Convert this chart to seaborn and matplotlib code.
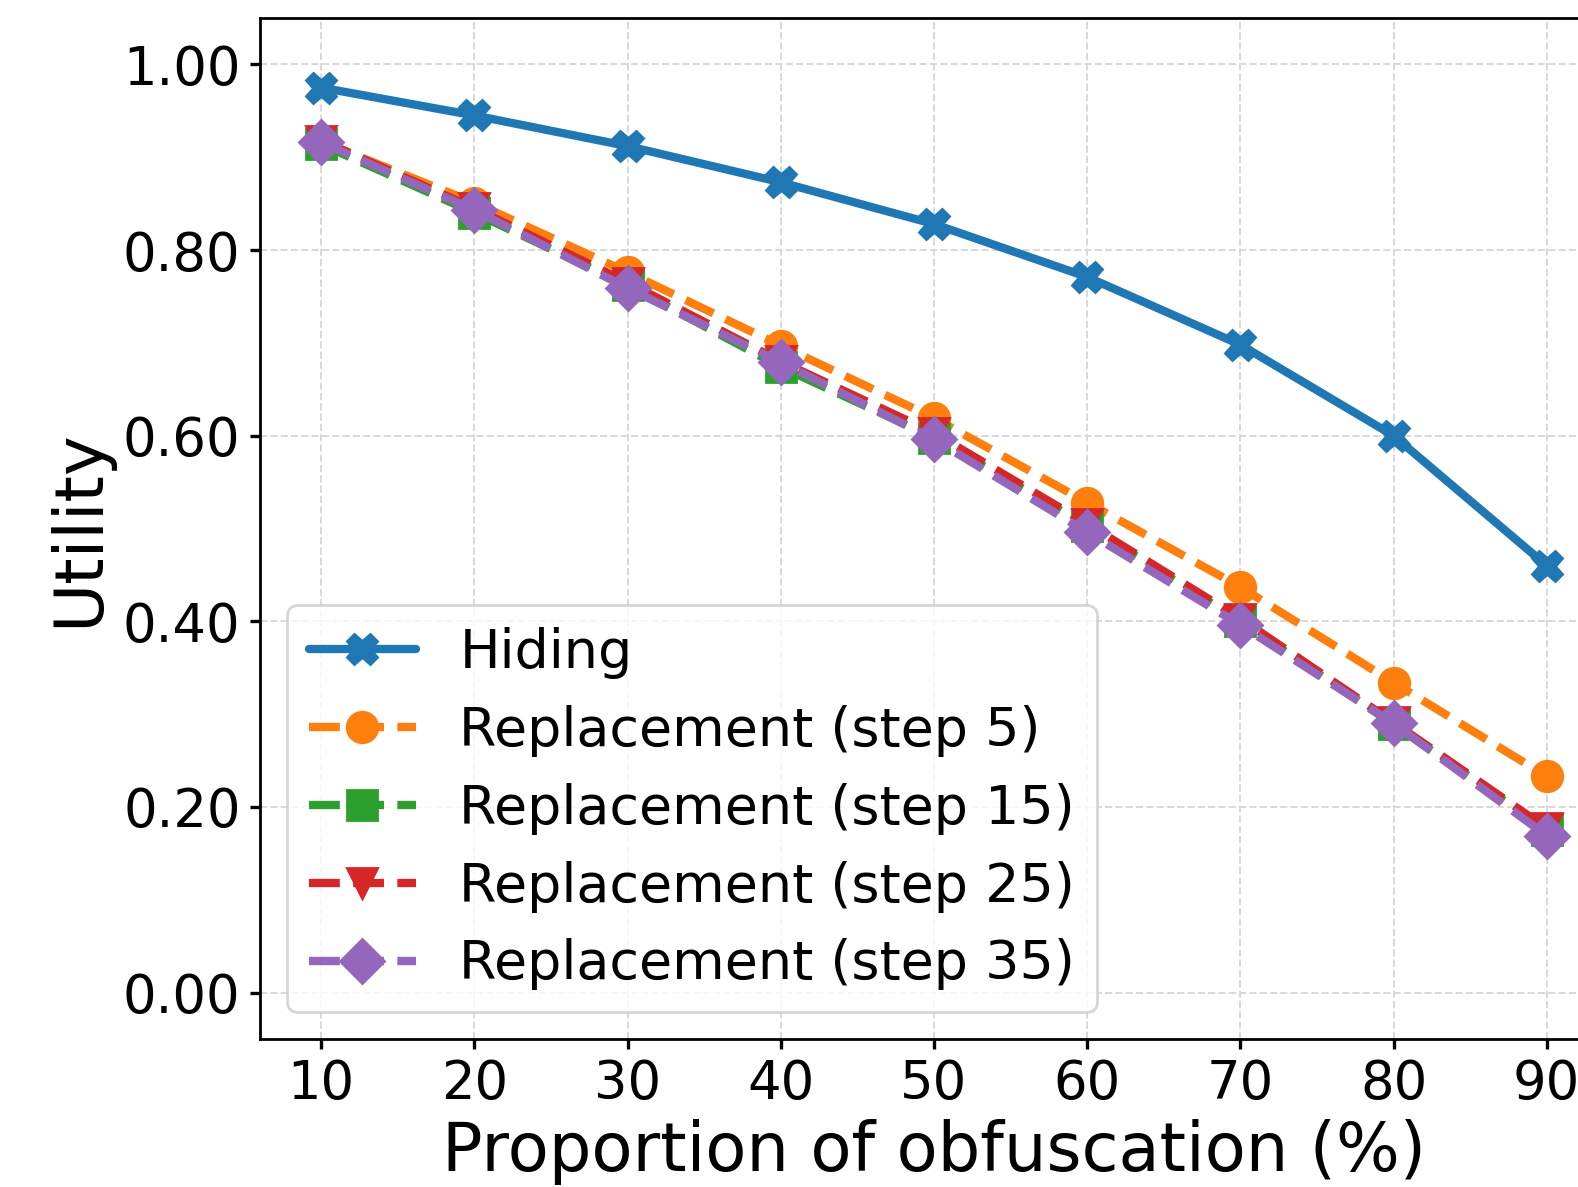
import matplotlib
matplotlib.use("Agg")
import matplotlib.pyplot as plt
import seaborn as sns
import numpy as np
from matplotlib.ticker import FormatStrFormatter

proportions = [10, 20, 30, 40, 50, 60, 70, 80, 90]
hiding = [0.975, 0.945, 0.912, 0.873, 0.828, 0.771, 0.698, 0.600, 0.460]
step5 = [0.917, 0.851, 0.776, 0.697, 0.619, 0.528, 0.437, 0.334, 0.233]
step15 = [0.914, 0.840, 0.762, 0.674, 0.598, 0.503, 0.400, 0.289, 0.175]
step25 = [0.918, 0.845, 0.765, 0.680, 0.603, 0.505, 0.403, 0.291, 0.177]
step35 = [0.916, 0.843, 0.759, 0.679, 0.596, 0.496, 0.396, 0.290, 0.169]

labels = ["Hiding", "Replacement (step 5)", "Replacement (step 15)",
          "Replacement (step 25)", "Replacement (step 35)"]

sns.set_style("ticks")
plt.rcParams['font.family'] = ['DejaVu Sans']
plt.rcParams['text.color'] = 'black'
plt.rcParams['axes.labelcolor'] = 'black'
plt.rcParams['xtick.color'] = 'black'
plt.rcParams['ytick.color'] = 'black'

fig = plt.figure(figsize=(1578/200, 1187/200), dpi=200)
ax = fig.add_axes([260/1578, (1187-1039)/1187, (1608-260)/1578, (1039-18)/1187])

series = [hiding, step5, step15, step25, step35]
colors = ["#1f77b4", "#ff7f0e", "#2ca02c", "#d62728", "#9467bd"]
markers = ["X", "o", "s", "v", "D"]
styles = ["-", "--", "--", "--", "--"]

for vals, c, m, ls, lab in zip(series, colors, markers, styles, labels):
    sns.lineplot(x=proportions, y=vals, ax=ax, color=c, marker=m, linestyle=ls,
                 linewidth=3, markersize=11, markeredgecolor=c, markeredgewidth=1,
                 label=lab)

ax.set_xlim(6, 94)
ax.set_ylim(-0.05, 1.05)
ax.set_xticks(proportions)
ax.set_yticks([0.0, 0.2, 0.4, 0.6, 0.8, 1.0])
ax.yaxis.set_major_formatter(FormatStrFormatter('%.2f'))
ax.tick_params(labelsize=19, width=1.2, length=3.5, colors='black')
ax.set_xlabel("Proportion of obfuscation (%)", fontsize=24.2, color='black', labelpad=3)
ax.set_ylabel("Utility", fontsize=24.2, color='black', labelpad=4)
ax.grid(True, linestyle='--', color='#d8d8d8', linewidth=0.7)
for s in ax.spines.values():
    s.set_color('black')
    s.set_linewidth(1.0)
leg = ax.legend(loc='lower left', fontsize=19.4, frameon=True, labelspacing=0.48)
for t in leg.get_texts():
    t.set_color('black')

fig.savefig("out.png", dpi=200)
